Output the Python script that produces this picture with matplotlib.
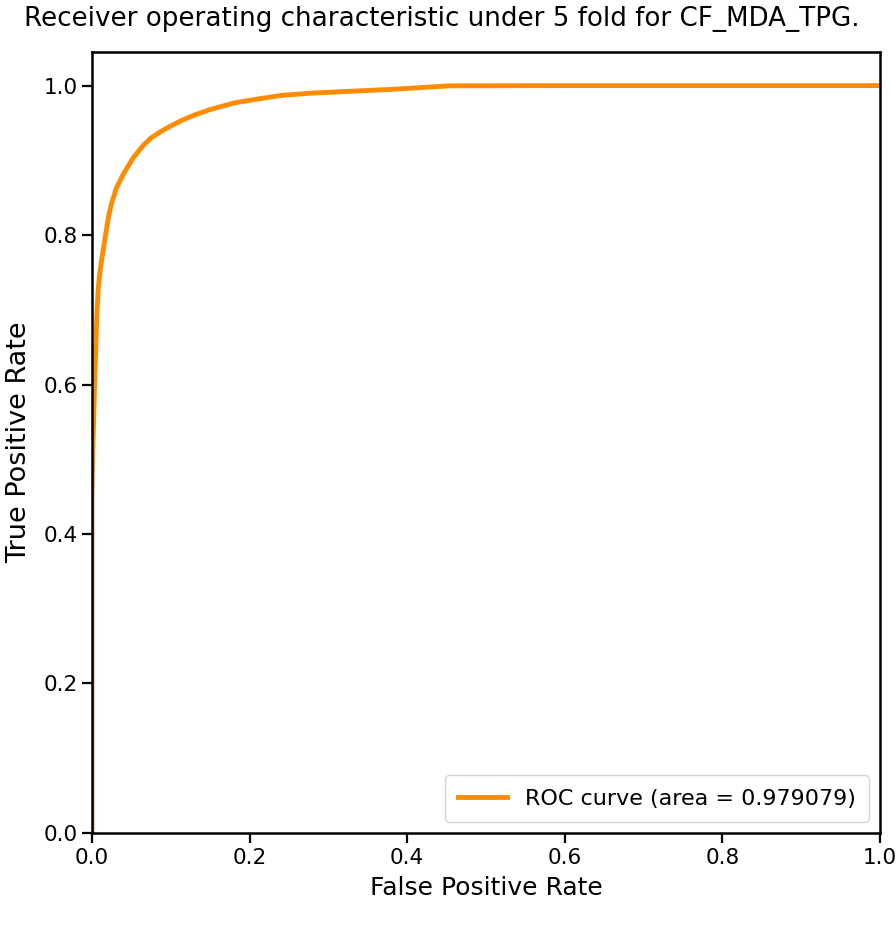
import matplotlib
matplotlib.use("Agg")
import matplotlib.pyplot as plt

# ROC curve (false positive rate, true positive rate)
fpr = [0.0, 0.0, 0.0005, 0.001, 0.002, 0.003, 0.0047, 0.006, 0.008, 0.010,
       0.012, 0.015, 0.018, 0.021, 0.025, 0.031, 0.040, 0.052, 0.065, 0.075,
       0.088, 0.100, 0.115, 0.131, 0.150, 0.181, 0.210, 0.241, 0.280, 0.327,
       0.380, 0.454, 0.600, 1.0]
tpr = [0.0, 0.45, 0.48, 0.51, 0.55, 0.59, 0.647, 0.69, 0.73, 0.75,
       0.765, 0.785, 0.805, 0.825, 0.843, 0.863, 0.882, 0.903, 0.920, 0.930,
       0.939, 0.946, 0.954, 0.961, 0.968, 0.977, 0.982, 0.987, 0.990, 0.9924,
       0.995, 0.9997, 1.0, 1.0]
roc_auc = 0.979079
title = "Receiver operating characteristic under 5 fold for CF_MDA_TPG."

fig = plt.figure(figsize=(8.96, 9.25), dpi=100)
ax = fig.add_axes([0.1027, 0.0995, 0.8793, 0.8443])

ax.plot(fpr, tpr, color="darkorange", lw=3.5,
        label="ROC curve (area = %0.6f)" % roc_auc)
ax.set_xlim(0.0, 1.0)
ax.set_ylim(0.0, 1.045)
ax.set_xlabel("False Positive Rate", fontsize=18, labelpad=6)
ax.set_ylabel("True Positive Rate", fontsize=19.5, labelpad=8)
ax.tick_params(labelsize=15.5, width=1.6, length=7)
for s in ax.spines.values():
    s.set_linewidth(1.8)
ax.legend(loc="lower right", fontsize=16, handlelength=2.2, borderpad=0.6)
fig.text(0.493, 0.98, title, ha="center", va="center", fontsize=18.8)

fig.savefig("out.png", dpi=100)
